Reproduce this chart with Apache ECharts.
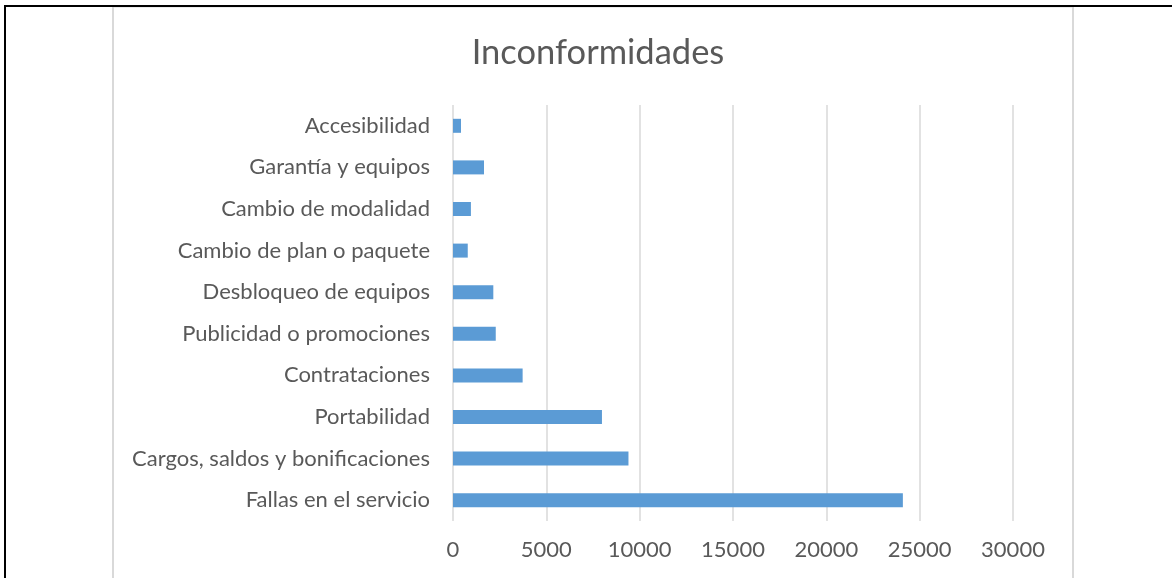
<!DOCTYPE html>
<html>
<head>
<meta charset="utf-8">
<script src="https://cdn.jsdelivr.net/npm/echarts@6/dist/echarts.min.js"></script>
<style>
  * { margin: 0; padding: 0; }
  html, body { width: 1172px; height: 578px; background: #fff; overflow: hidden; }
  #chart { width: 1172px; height: 578px; }
</style>
</head>
<body>
<div id="chart"></div>
<script>
  // categorías de abajo hacia arriba (el eje de categorías empieza abajo)
  const categories = [
    'Fallas en el servicio',
    'Cargos, saldos y bonificaciones',
    'Portabilidad',
    'Contrataciones',
    'Publicidad o promociones',
    'Desbloqueo de equipos',
    'Cambio de plan o paquete',
    'Cambio de modalidad',
    'Garantía y equipos',
    'Accesibilidad',
  ];
  const values = [24100, 9400, 7980, 3730, 2290, 2160, 790, 960, 1660, 430];
  const xTicks = [0, 5000, 10000, 15000, 20000, 25000, 30000];

  const textColor = '#595959';
  const fontFamily = 'Lato, "Open Sans", sans-serif';

  const chart = echarts.init(document.getElementById('chart'));

  const option = {
    animation: false,
    backgroundColor: '#fff',
    title: {
      text: 'Inconformidades',
      left: 593,
      top: 30,
      textAlign: 'center',
      textStyle: { color: textColor, fontSize: 34.5, fontWeight: 'normal', fontFamily: fontFamily },
    },
    grid: { left: 453, right: 159, top: 105, bottom: 57 },
    xAxis: {
      type: 'value',
      min: xTicks[0],
      max: xTicks[xTicks.length - 1],
      interval: xTicks[1] - xTicks[0],
      axisLine: { show: false },
      axisTick: { show: false },
      splitLine: { show: true, lineStyle: { color: '#d9d9d9', width: 1.5 } },
      axisLabel: {
        color: textColor, fontSize: 22, fontFamily: fontFamily, margin: 18,
        formatter: (v) => String(v),
      },
    },
    yAxis: {
      type: 'category',
      data: categories,
      axisLine: { show: false },
      axisTick: { show: false },
      axisLabel: { color: textColor, fontSize: 22, fontFamily: fontFamily, margin: 23 },
    },
    series: [
      {
        type: 'bar',
        data: values,
        barWidth: 14,
        itemStyle: { color: '#5b9bd5' },
      },
    ],
    graphic: [
      // marco gris del gráfico
      { type: 'rect', z: 100, silent: true,
        shape: { x: 113, y: 6.5, width: 960, height: 620 },
        style: { fill: 'none', stroke: '#d9d9d9', lineWidth: 2 } },
      // bordes negros de la tabla
      { type: 'line', z: 101, silent: true,
        shape: { x1: 4, y1: 6, x2: 1172, y2: 6 },
        style: { stroke: '#000', lineWidth: 2 } },
      { type: 'line', z: 101, silent: true,
        shape: { x1: 5, y1: 5, x2: 5, y2: 578 },
        style: { stroke: '#000', lineWidth: 2 } },
    ],
  };

  chart.setOption(option);
</script>
</body>
</html>
